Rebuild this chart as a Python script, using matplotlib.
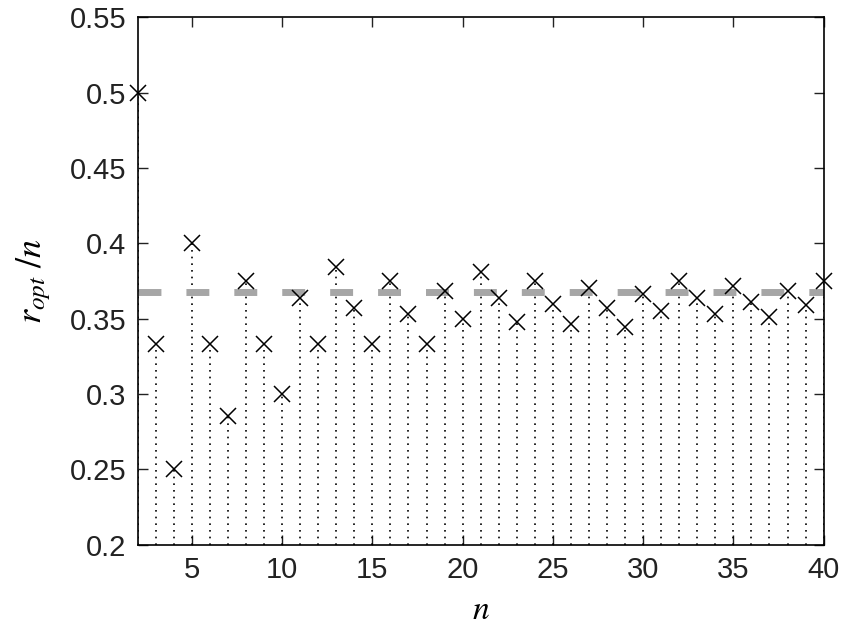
import matplotlib.pyplot as plt

plt.rcParams['font.family'] = 'Liberation Sans'
plt.rcParams['mathtext.fontset'] = 'stix'

n = list(range(2, 41))
ratio = [0.5, 0.3333, 0.25, 0.4, 0.3333, 0.2857, 0.375, 0.3333, 0.3,
         0.3636, 0.3333, 0.3846, 0.3571, 0.3333, 0.375, 0.3529, 0.3333,
         0.3684, 0.35, 0.381, 0.3636, 0.3478, 0.375, 0.36, 0.3462,
         0.3704, 0.3571, 0.3448, 0.3667, 0.3548, 0.375, 0.3636, 0.3529,
         0.3714, 0.3611, 0.3514, 0.3684, 0.359, 0.375]
limit = 0.3679  # 1/e

fig = plt.figure(figsize=(8.5, 6.38), dpi=100)
ax = fig.add_axes([0.162, 0.146, 0.807, 0.827])

ax.vlines(n, 0.2, ratio, colors='k', linestyles=(0, (1, 3)), linewidth=1.2)
ax.plot([2, 40], [limit, limit], color='#a6a6a6', linewidth=5,
        dashes=(3.3, 3.6))
ax.plot(n, ratio, 'kx', markersize=11, markeredgewidth=1.1, clip_on=False,
        zorder=5)

ax.set_xlim(2, 40)
ax.set_ylim(0.2, 0.55)
ax.set_xticks([5, 10, 15, 20, 25, 30, 35, 40])
ax.set_yticks([0.2, 0.25, 0.3, 0.35, 0.4, 0.45, 0.5, 0.55])
ax.set_yticklabels(['0.2', '0.25', '0.3', '0.35', '0.4', '0.45', '0.5', '0.55'])
ax.tick_params(direction='in', top=True, right=True, labelsize=21,
               length=7, width=1, pad=8, colors='#222222')
for s in ax.spines.values():
    s.set_linewidth(1.2)

ax.set_xlabel('$n$', fontsize=24, labelpad=8)
ax.set_ylabel('$r_{opt}\\ /n$', fontsize=26, labelpad=12)

fig.savefig('out.png', dpi=100)
